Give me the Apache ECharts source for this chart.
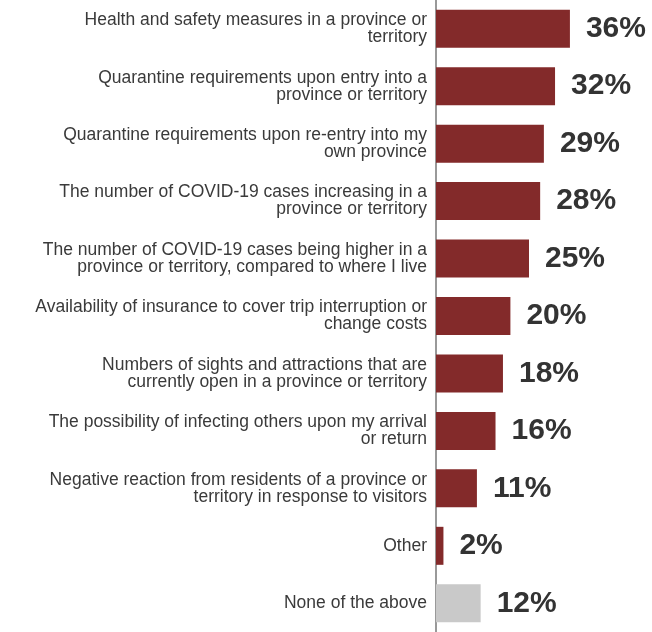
<!DOCTYPE html>
<html><head><meta charset="utf-8">
<script src="https://cdn.jsdelivr.net/npm/echarts@6/dist/echarts.min.js"></script>
<style>html,body{margin:0;padding:0;background:#fff}#c{width:652px;height:632px}</style>
</head><body><div id="c"></div>
<script>
const categories = [
  "Health and safety measures in a province or\nterritory",
  "Quarantine requirements upon entry into a\nprovince or territory",
  "Quarantine requirements upon re-entry into my\nown province",
  "The number of COVID-19 cases increasing in a\nprovince or territory",
  "The number of COVID-19 cases being higher in a\nprovince or territory, compared to where I live",
  "Availability of insurance to cover trip interruption or\nchange costs",
  "Numbers of sights and attractions that are\ncurrently open in a province or territory",
  "The possibility of infecting others upon my arrival\nor return",
  "Negative reaction from residents of a province or\nterritory in response to visitors",
  "Other",
  "None of the above"
];
const values = [36, 32, 29, 28, 25, 20, 18, 16, 11, 2, 12];
const barColors = ["#832a2a","#832a2a","#832a2a","#832a2a","#832a2a","#832a2a","#832a2a","#832a2a","#832a2a","#832a2a","#c9c9c9"];

const chart = echarts.init(document.getElementById('c'));
chart.setOption({
  animation: false,
  grid: { left: 436, top: 0, width: 186, height: 635, containLabel: false },
  xAxis: { type: 'value', min: 0, max: 50, show: false },
  yAxis: {
    type: 'category', data: categories, inverse: true,
    axisLine: { show: true, lineStyle: { color: '#999', width: 2 } },
    axisTick: { show: false },
    axisLabel: { margin: 9, fontFamily: "'Liberation Sans', Arial", fontSize: 17.5, color: '#3a3a3a', lineHeight: 17, align: 'right' }
  },
  series: [{
    type: 'bar', barWidth: 38,
    data: values.map((v, i) => ({ value: v, itemStyle: { color: barColors[i] } })),
    label: { show: true, position: 'right', distance: 16, formatter: '{c}%', fontFamily: "'Liberation Sans', Arial", fontSize: 30, fontWeight: 'bold', color: '#333' }
  }]
});
</script></body></html>
